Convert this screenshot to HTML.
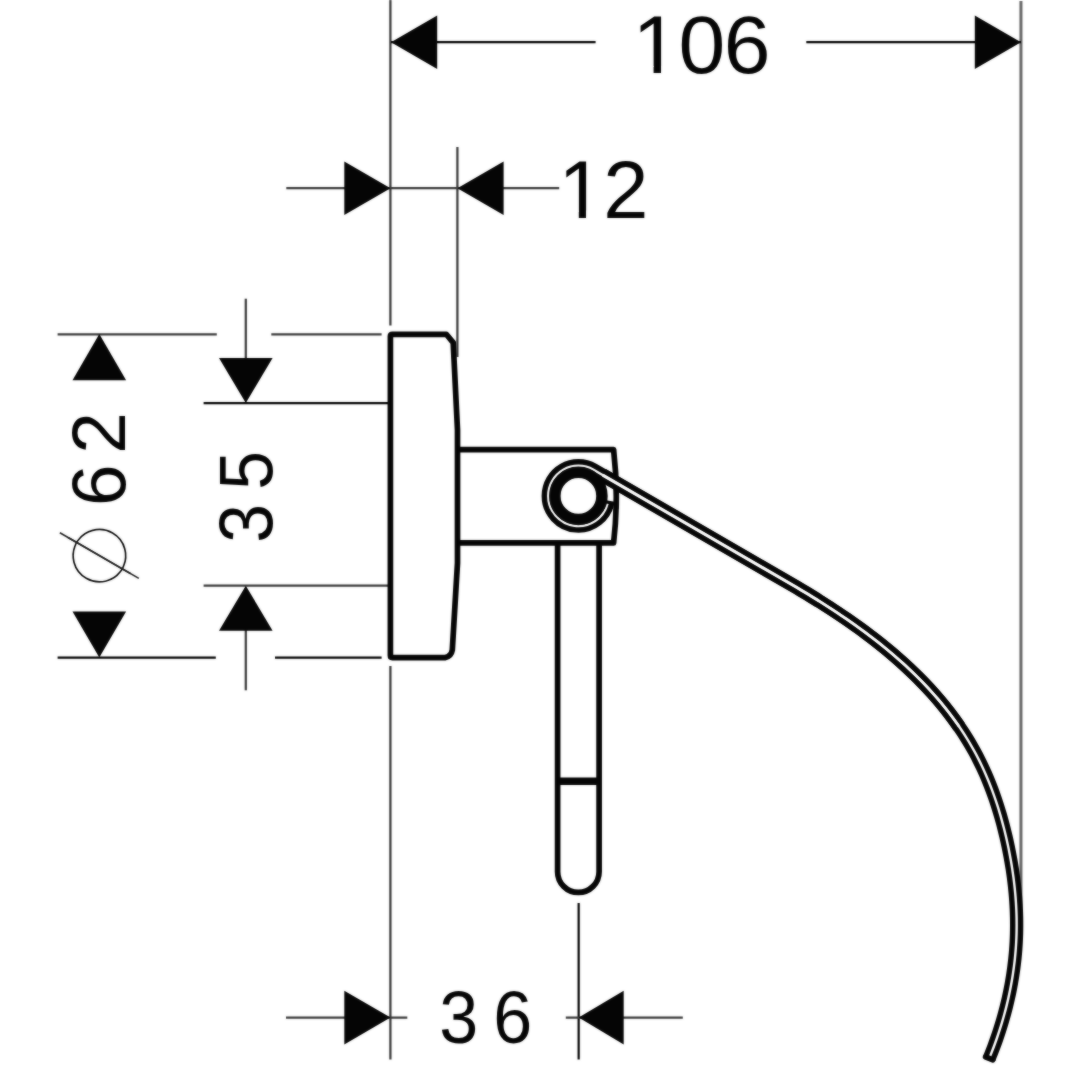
<!DOCTYPE html>
<html lang="en">
<head>
<meta charset="utf-8">
<title>Dimension drawing</title>
<style>
html,body{margin:0;padding:0;background:#fff;}
body{width:1080px;height:1080px;overflow:hidden;}
svg{display:block;}
</style>
</head>
<body>
<svg width="1080" height="1080" viewBox="0 0 1080 1080">
<defs><filter id="soft" color-interpolation-filters="sRGB" x="0" y="0" width="1080" height="1080" filterUnits="userSpaceOnUse"><feGaussianBlur in="SourceGraphic" stdDeviation="0.8" result="b"/><feComposite in="SourceGraphic" in2="b" operator="arithmetic" k1="0" k2="0.5" k3="0.5" k4="0"/></filter></defs>
<rect width="1080" height="1080" fill="#fff"/>
<g filter="url(#soft)">
<rect width="1080" height="1080" fill="#fff"/>
<g id="dimension-lines" fill="none">
<line x1="390.4" y1="0" x2="390.4" y2="325.5" stroke="#383838" stroke-width="2.25"/>
<line x1="390.4" y1="666" x2="390.4" y2="1059.5" stroke="#383838" stroke-width="2.25"/>
<line x1="1020.95" y1="1" x2="1020.95" y2="925" stroke="#666666" stroke-width="3.0"/>
<line x1="457.4" y1="147" x2="457.4" y2="357" stroke="#383838" stroke-width="2.25"/>
<line x1="245.8" y1="298.7" x2="245.8" y2="359" stroke="#383838" stroke-width="2.25"/>
<line x1="245.8" y1="629" x2="245.8" y2="690.3" stroke="#383838" stroke-width="2.25"/>
<line x1="578.66" y1="903" x2="578.66" y2="1059.5" stroke="#000" stroke-width="2.2"/>
<line x1="391" y1="42.16" x2="595.6" y2="42.16" stroke="#000" stroke-width="2.2"/>
<line x1="806.3" y1="42.16" x2="1021" y2="42.16" stroke="#000" stroke-width="2.2"/>
<line x1="286.3" y1="188.1" x2="559.2" y2="188.1" stroke="#383838" stroke-width="2.25"/>
<line x1="57.6" y1="334.3" x2="216.8" y2="334.3" stroke="#383838" stroke-width="2.25"/>
<line x1="271.3" y1="334.3" x2="381.6" y2="334.3" stroke="#383838" stroke-width="2.25"/>
<line x1="203.6" y1="403.2" x2="388" y2="403.2" stroke="#000" stroke-width="2.2"/>
<line x1="203.6" y1="585.7" x2="388" y2="585.7" stroke="#383838" stroke-width="2.25"/>
<line x1="57.6" y1="657.7" x2="215.8" y2="657.7" stroke="#000" stroke-width="2.2"/>
<line x1="275" y1="657.7" x2="381.6" y2="657.7" stroke="#000" stroke-width="2.2"/>
<line x1="286" y1="1017.6" x2="407.3" y2="1017.6" stroke="#383838" stroke-width="2.25"/>
<line x1="565.8" y1="1017.6" x2="682.8" y2="1017.6" stroke="#383838" stroke-width="2.25"/>
</g>
<g id="arrowheads" fill="#050505">
<polygon points="391.0,42.2 437.2,15.4 437.2,69.0"/>
<polygon points="1021.0,42.2 974.8,15.4 974.8,69.0"/>
<polygon points="390.5,188.2 344.3,161.4 344.3,215.0"/>
<polygon points="457.4,188.2 503.6,161.4 503.6,215.0"/>
<polygon points="99.3,334.1 72.5,380.3 126.1,380.3"/>
<polygon points="99.3,657.6 72.5,611.4 126.1,611.4"/>
<polygon points="245.8,403.0 219.0,358.0 272.6,358.0"/>
<polygon points="245.8,585.7 219.0,630.7 272.6,630.7"/>
<polygon points="390.5,1017.6 344.3,990.8 344.3,1044.4"/>
<polygon points="578.7,1017.6 623.7,990.8 623.7,1044.4"/>
</g>
<g id="holder" fill="none" stroke="#050505" stroke-width="5.7" stroke-linejoin="round">
<path d="M392.4,334.3 L446.3,334.3 L453.2,342.6 L457.5,430 L457.5,563 L452.3,650 Q451.2,656.4 445,657.6 L392.4,657.6 Q390.4,657.6 390.4,655.6 L390.4,336.3 Q390.4,334.3 392.4,334.3 Z"/>
<path d="M457.7,449.7 L613.6,449.7 Q619,496.3 613.6,542.9 L457.7,542.9"/>
<path d="M557.6,545 L557.6,871.7 A20.75,20.75 0 0 0 599.1,871.7 L599.1,545"/>
<line x1="557.6" y1="781.3" x2="599.1" y2="781.3" stroke-width="7.4"/>
</g>
<g id="wire" fill="none">
<path d="M608.18,500.62 A30.15,30.15 0 0 1 548.25,495.90 A30.15,30.15 0 0 1 593.50,469.81 L796.90,587.52 C798.07,588.22 801.58,590.32 803.92,591.74 C806.25,593.15 808.58,594.57 810.90,596.00 C813.22,597.42 815.54,598.86 817.85,600.31 C820.16,601.76 822.46,603.21 824.76,604.68 C827.06,606.15 829.35,607.62 831.63,609.11 C833.91,610.60 836.19,612.10 838.46,613.62 C840.73,615.13 842.99,616.66 845.24,618.19 C847.49,619.73 849.73,621.29 851.96,622.85 C854.19,624.42 856.42,626.00 858.63,627.60 C860.84,629.20 863.05,630.81 865.24,632.44 C867.43,634.07 869.61,635.72 871.78,637.38 C873.95,639.04 876.11,640.72 878.26,642.42 C880.40,644.11 882.54,645.83 884.65,647.56 C886.77,649.29 888.88,651.04 890.97,652.80 C893.06,654.57 895.13,656.35 897.19,658.15 C899.25,659.95 901.29,661.77 903.31,663.61 C905.33,665.44 907.34,667.30 909.33,669.17 C911.31,671.04 913.28,672.93 915.23,674.84 C917.18,676.75 919.11,678.68 921.02,680.63 C922.92,682.57 924.81,684.54 926.67,686.52 C928.54,688.50 930.38,690.51 932.20,692.53 C934.01,694.55 935.81,696.59 937.58,698.65 C939.35,700.71 941.10,702.79 942.82,704.89 C944.53,706.99 946.23,709.11 947.90,711.24 C949.56,713.38 951.20,715.54 952.81,717.72 C954.42,719.90 956.01,722.10 957.56,724.31 C959.12,726.53 960.64,728.77 962.14,731.03 C963.63,733.29 965.09,735.57 966.53,737.87 C967.96,740.17 969.36,742.49 970.73,744.83 C972.09,747.18 973.43,749.54 974.73,751.92 C976.03,754.31 977.30,756.71 978.53,759.14 C979.76,761.57 980.96,764.01 982.12,766.48 C983.28,768.95 984.41,771.44 985.51,773.94 C986.60,776.44 987.67,778.96 988.70,781.50 C989.73,784.04 990.73,786.59 991.70,789.16 C992.67,791.73 993.60,794.31 994.51,796.90 C995.42,799.50 996.29,802.11 997.14,804.72 C997.99,807.34 998.81,809.97 999.60,812.61 C1000.38,815.25 1001.14,817.90 1001.88,820.55 C1002.61,823.21 1003.32,825.87 1004.00,828.54 C1004.67,831.21 1005.33,833.88 1005.95,836.56 C1006.58,839.24 1007.18,841.92 1007.75,844.61 C1008.33,847.30 1008.88,849.99 1009.40,852.68 C1009.93,855.37 1010.42,858.06 1010.89,860.76 C1011.36,863.46 1011.81,866.15 1012.23,868.85 C1012.64,871.56 1013.03,874.26 1013.39,876.96 C1013.75,879.67 1014.09,882.37 1014.39,885.08 C1014.69,887.79 1014.97,890.50 1015.21,893.21 C1015.45,895.91 1015.67,898.63 1015.85,901.34 C1016.03,904.05 1016.19,906.76 1016.31,909.47 C1016.43,912.19 1016.52,914.90 1016.58,917.61 C1016.63,920.33 1016.66,923.04 1016.65,925.76 C1016.64,928.47 1016.60,931.18 1016.53,933.90 C1016.45,936.61 1016.34,939.32 1016.20,942.03 C1016.06,944.75 1015.88,947.46 1015.67,950.17 C1015.45,952.88 1015.21,955.59 1014.93,958.29 C1014.65,961.00 1014.33,963.70 1013.98,966.41 C1013.64,969.11 1013.26,971.80 1012.84,974.50 C1012.43,977.19 1011.98,979.88 1011.51,982.57 C1011.03,985.26 1010.52,987.94 1009.98,990.61 C1009.44,993.29 1008.86,995.96 1008.26,998.62 C1007.66,1001.29 1007.02,1003.95 1006.36,1006.60 C1005.69,1009.25 1005.00,1011.89 1004.27,1014.53 C1003.55,1017.16 1002.79,1019.79 1002.01,1022.41 C1001.23,1025.03 1000.41,1027.64 999.57,1030.24 C998.73,1032.84 997.86,1035.43 996.96,1038.01 C996.06,1040.59 995.14,1043.17 994.18,1045.72 C993.23,1048.28 992.08,1051.23 991.24,1053.37 C990.40,1055.50 989.47,1057.68 989.12,1058.54" stroke="#050505" stroke-width="13.3"/>
<path d="M608.18,500.62 A30.15,30.15 0 0 1 548.25,495.90 A30.15,30.15 0 0 1 593.50,469.81 L796.90,587.52 C798.07,588.22 801.58,590.32 803.92,591.74 C806.25,593.15 808.58,594.57 810.90,596.00 C813.22,597.42 815.54,598.86 817.85,600.31 C820.16,601.76 822.46,603.21 824.76,604.68 C827.06,606.15 829.35,607.62 831.63,609.11 C833.91,610.60 836.19,612.10 838.46,613.62 C840.73,615.13 842.99,616.66 845.24,618.19 C847.49,619.73 849.73,621.29 851.96,622.85 C854.19,624.42 856.42,626.00 858.63,627.60 C860.84,629.20 863.05,630.81 865.24,632.44 C867.43,634.07 869.61,635.72 871.78,637.38 C873.95,639.04 876.11,640.72 878.26,642.42 C880.40,644.11 882.54,645.83 884.65,647.56 C886.77,649.29 888.88,651.04 890.97,652.80 C893.06,654.57 895.13,656.35 897.19,658.15 C899.25,659.95 901.29,661.77 903.31,663.61 C905.33,665.44 907.34,667.30 909.33,669.17 C911.31,671.04 913.28,672.93 915.23,674.84 C917.18,676.75 919.11,678.68 921.02,680.63 C922.92,682.57 924.81,684.54 926.67,686.52 C928.54,688.50 930.38,690.51 932.20,692.53 C934.01,694.55 935.81,696.59 937.58,698.65 C939.35,700.71 941.10,702.79 942.82,704.89 C944.53,706.99 946.23,709.11 947.90,711.24 C949.56,713.38 951.20,715.54 952.81,717.72 C954.42,719.90 956.01,722.10 957.56,724.31 C959.12,726.53 960.64,728.77 962.14,731.03 C963.63,733.29 965.09,735.57 966.53,737.87 C967.96,740.17 969.36,742.49 970.73,744.83 C972.09,747.18 973.43,749.54 974.73,751.92 C976.03,754.31 977.30,756.71 978.53,759.14 C979.76,761.57 980.96,764.01 982.12,766.48 C983.28,768.95 984.41,771.44 985.51,773.94 C986.60,776.44 987.67,778.96 988.70,781.50 C989.73,784.04 990.73,786.59 991.70,789.16 C992.67,791.73 993.60,794.31 994.51,796.90 C995.42,799.50 996.29,802.11 997.14,804.72 C997.99,807.34 998.81,809.97 999.60,812.61 C1000.38,815.25 1001.14,817.90 1001.88,820.55 C1002.61,823.21 1003.32,825.87 1004.00,828.54 C1004.67,831.21 1005.33,833.88 1005.95,836.56 C1006.58,839.24 1007.18,841.92 1007.75,844.61 C1008.33,847.30 1008.88,849.99 1009.40,852.68 C1009.93,855.37 1010.42,858.06 1010.89,860.76 C1011.36,863.46 1011.81,866.15 1012.23,868.85 C1012.64,871.56 1013.03,874.26 1013.39,876.96 C1013.75,879.67 1014.09,882.37 1014.39,885.08 C1014.69,887.79 1014.97,890.50 1015.21,893.21 C1015.45,895.91 1015.67,898.63 1015.85,901.34 C1016.03,904.05 1016.19,906.76 1016.31,909.47 C1016.43,912.19 1016.52,914.90 1016.58,917.61 C1016.63,920.33 1016.66,923.04 1016.65,925.76 C1016.64,928.47 1016.60,931.18 1016.53,933.90 C1016.45,936.61 1016.34,939.32 1016.20,942.03 C1016.06,944.75 1015.88,947.46 1015.67,950.17 C1015.45,952.88 1015.21,955.59 1014.93,958.29 C1014.65,961.00 1014.33,963.70 1013.98,966.41 C1013.64,969.11 1013.26,971.80 1012.84,974.50 C1012.43,977.19 1011.98,979.88 1011.51,982.57 C1011.03,985.26 1010.52,987.94 1009.98,990.61 C1009.44,993.29 1008.86,995.96 1008.26,998.62 C1007.66,1001.29 1007.02,1003.95 1006.36,1006.60 C1005.69,1009.25 1005.00,1011.89 1004.27,1014.53 C1003.55,1017.16 1002.79,1019.79 1002.01,1022.41 C1001.23,1025.03 1000.41,1027.64 999.57,1030.24 C998.73,1032.84 997.86,1035.43 996.96,1038.01 C996.06,1040.59 995.14,1043.17 994.18,1045.72 C993.23,1048.28 992.08,1051.23 991.24,1053.37 C990.40,1055.50 989.47,1057.68 989.12,1058.54" stroke="#050505" stroke-width="13.6" stroke-dasharray="0 413 190 9999"/>
<path d="M608.18,500.62 A30.15,30.15 0 0 1 548.25,495.90 A30.15,30.15 0 0 1 593.50,469.81 L796.90,587.52 C798.07,588.22 801.58,590.32 803.92,591.74 C806.25,593.15 808.58,594.57 810.90,596.00 C813.22,597.42 815.54,598.86 817.85,600.31 C820.16,601.76 822.46,603.21 824.76,604.68 C827.06,606.15 829.35,607.62 831.63,609.11 C833.91,610.60 836.19,612.10 838.46,613.62 C840.73,615.13 842.99,616.66 845.24,618.19 C847.49,619.73 849.73,621.29 851.96,622.85 C854.19,624.42 856.42,626.00 858.63,627.60 C860.84,629.20 863.05,630.81 865.24,632.44 C867.43,634.07 869.61,635.72 871.78,637.38 C873.95,639.04 876.11,640.72 878.26,642.42 C880.40,644.11 882.54,645.83 884.65,647.56 C886.77,649.29 888.88,651.04 890.97,652.80 C893.06,654.57 895.13,656.35 897.19,658.15 C899.25,659.95 901.29,661.77 903.31,663.61 C905.33,665.44 907.34,667.30 909.33,669.17 C911.31,671.04 913.28,672.93 915.23,674.84 C917.18,676.75 919.11,678.68 921.02,680.63 C922.92,682.57 924.81,684.54 926.67,686.52 C928.54,688.50 930.38,690.51 932.20,692.53 C934.01,694.55 935.81,696.59 937.58,698.65 C939.35,700.71 941.10,702.79 942.82,704.89 C944.53,706.99 946.23,709.11 947.90,711.24 C949.56,713.38 951.20,715.54 952.81,717.72 C954.42,719.90 956.01,722.10 957.56,724.31 C959.12,726.53 960.64,728.77 962.14,731.03 C963.63,733.29 965.09,735.57 966.53,737.87 C967.96,740.17 969.36,742.49 970.73,744.83 C972.09,747.18 973.43,749.54 974.73,751.92 C976.03,754.31 977.30,756.71 978.53,759.14 C979.76,761.57 980.96,764.01 982.12,766.48 C983.28,768.95 984.41,771.44 985.51,773.94 C986.60,776.44 987.67,778.96 988.70,781.50 C989.73,784.04 990.73,786.59 991.70,789.16 C992.67,791.73 993.60,794.31 994.51,796.90 C995.42,799.50 996.29,802.11 997.14,804.72 C997.99,807.34 998.81,809.97 999.60,812.61 C1000.38,815.25 1001.14,817.90 1001.88,820.55 C1002.61,823.21 1003.32,825.87 1004.00,828.54 C1004.67,831.21 1005.33,833.88 1005.95,836.56 C1006.58,839.24 1007.18,841.92 1007.75,844.61 C1008.33,847.30 1008.88,849.99 1009.40,852.68 C1009.93,855.37 1010.42,858.06 1010.89,860.76 C1011.36,863.46 1011.81,866.15 1012.23,868.85 C1012.64,871.56 1013.03,874.26 1013.39,876.96 C1013.75,879.67 1014.09,882.37 1014.39,885.08 C1014.69,887.79 1014.97,890.50 1015.21,893.21 C1015.45,895.91 1015.67,898.63 1015.85,901.34 C1016.03,904.05 1016.19,906.76 1016.31,909.47 C1016.43,912.19 1016.52,914.90 1016.58,917.61 C1016.63,920.33 1016.66,923.04 1016.65,925.76 C1016.64,928.47 1016.60,931.18 1016.53,933.90 C1016.45,936.61 1016.34,939.32 1016.20,942.03 C1016.06,944.75 1015.88,947.46 1015.67,950.17 C1015.45,952.88 1015.21,955.59 1014.93,958.29 C1014.65,961.00 1014.33,963.70 1013.98,966.41 C1013.64,969.11 1013.26,971.80 1012.84,974.50 C1012.43,977.19 1011.98,979.88 1011.51,982.57 C1011.03,985.26 1010.52,987.94 1009.98,990.61 C1009.44,993.29 1008.86,995.96 1008.26,998.62 C1007.66,1001.29 1007.02,1003.95 1006.36,1006.60 C1005.69,1009.25 1005.00,1011.89 1004.27,1014.53 C1003.55,1017.16 1002.79,1019.79 1002.01,1022.41 C1001.23,1025.03 1000.41,1027.64 999.57,1030.24 C998.73,1032.84 997.86,1035.43 996.96,1038.01 C996.06,1040.59 995.14,1043.17 994.18,1045.72 C993.23,1048.28 992.08,1051.23 991.24,1053.37 C990.40,1055.50 989.47,1057.68 989.12,1058.54" stroke="#050505" stroke-width="14.0" stroke-dasharray="0 163 250 9999"/>
<line x1="985.37" y1="1057.00" x2="992.87" y2="1060.07" stroke="#050505" stroke-width="5.2" stroke-linecap="round"/>
<g id="wire-core" stroke="#fff">
<path d="M607.52,503.70 A30.15,30.15 0 0 1 548.25,495.90 A30.15,30.15 0 0 1 593.50,469.81 L796.90,587.52 C798.07,588.22 801.58,590.32 803.92,591.74 C806.25,593.15 808.58,594.57 810.90,596.00 C813.22,597.42 815.54,598.86 817.85,600.31 C820.16,601.76 822.46,603.21 824.76,604.68 C827.06,606.15 829.35,607.62 831.63,609.11 C833.91,610.60 836.19,612.10 838.46,613.62 C840.73,615.13 842.99,616.66 845.24,618.19 C847.49,619.73 849.73,621.29 851.96,622.85 C854.19,624.42 856.42,626.00 858.63,627.60 C860.84,629.20 863.05,630.81 865.24,632.44 C867.43,634.07 869.61,635.72 871.78,637.38 C873.95,639.04 876.11,640.72 878.26,642.42 C880.40,644.11 882.54,645.83 884.65,647.56 C886.77,649.29 888.88,651.04 890.97,652.80 C893.06,654.57 895.13,656.35 897.19,658.15 C899.25,659.95 901.29,661.77 903.31,663.61 C905.33,665.44 907.34,667.30 909.33,669.17 C911.31,671.04 913.28,672.93 915.23,674.84 C917.18,676.75 919.11,678.68 921.02,680.63 C922.92,682.57 924.81,684.54 926.67,686.52 C928.54,688.50 930.38,690.51 932.20,692.53 C934.01,694.55 935.81,696.59 937.58,698.65 C939.35,700.71 941.10,702.79 942.82,704.89 C944.53,706.99 946.23,709.11 947.90,711.24 C949.56,713.38 951.20,715.54 952.81,717.72 C954.42,719.90 956.01,722.10 957.56,724.31 C959.12,726.53 960.64,728.77 962.14,731.03 C963.63,733.29 965.09,735.57 966.53,737.87 C967.96,740.17 969.36,742.49 970.73,744.83 C972.09,747.18 973.43,749.54 974.73,751.92 C976.03,754.31 977.30,756.71 978.53,759.14 C979.76,761.57 980.96,764.01 982.12,766.48 C983.28,768.95 984.41,771.44 985.51,773.94 C986.60,776.44 987.67,778.96 988.70,781.50 C989.73,784.04 990.73,786.59 991.70,789.16 C992.67,791.73 993.60,794.31 994.51,796.90 C995.42,799.50 996.29,802.11 997.14,804.72 C997.99,807.34 998.81,809.97 999.60,812.61 C1000.38,815.25 1001.14,817.90 1001.88,820.55 C1002.61,823.21 1003.32,825.87 1004.00,828.54 C1004.67,831.21 1005.33,833.88 1005.95,836.56 C1006.58,839.24 1007.18,841.92 1007.75,844.61 C1008.33,847.30 1008.88,849.99 1009.40,852.68 C1009.93,855.37 1010.42,858.06 1010.89,860.76 C1011.36,863.46 1011.81,866.15 1012.23,868.85 C1012.64,871.56 1013.03,874.26 1013.39,876.96 C1013.75,879.67 1014.09,882.37 1014.39,885.08 C1014.69,887.79 1014.97,890.50 1015.21,893.21 C1015.45,895.91 1015.67,898.63 1015.85,901.34 C1016.03,904.05 1016.19,906.76 1016.31,909.47 C1016.43,912.19 1016.52,914.90 1016.58,917.61 C1016.63,920.33 1016.66,923.04 1016.65,925.76 C1016.64,928.47 1016.60,931.18 1016.53,933.90 C1016.45,936.61 1016.34,939.32 1016.20,942.03 C1016.06,944.75 1015.88,947.46 1015.67,950.17 C1015.45,952.88 1015.21,955.59 1014.93,958.29 C1014.65,961.00 1014.33,963.70 1013.98,966.41 C1013.64,969.11 1013.26,971.80 1012.84,974.50 C1012.43,977.19 1011.98,979.88 1011.51,982.57 C1011.03,985.26 1010.52,987.94 1009.98,990.61 C1009.44,993.29 1008.86,995.96 1008.26,998.62 C1007.66,1001.29 1007.02,1003.95 1006.36,1006.60 C1005.69,1009.25 1005.00,1011.89 1004.27,1014.53 C1003.55,1017.16 1002.79,1019.79 1002.01,1022.41 C1001.23,1025.03 1000.41,1027.64 999.57,1030.24 C998.73,1032.84 997.86,1035.43 996.96,1038.01 C996.06,1040.59 995.14,1043.17 994.18,1045.72 C993.23,1048.28 991.89,1051.70 991.24,1053.37 C990.59,1055.04 990.42,1055.36 990.26,1055.76" stroke-width="2.4"/>
<path d="M607.52,503.70 A30.15,30.15 0 0 1 548.25,495.90 A30.15,30.15 0 0 1 593.50,469.81 L796.90,587.52 C798.07,588.22 801.58,590.32 803.92,591.74 C806.25,593.15 808.58,594.57 810.90,596.00 C813.22,597.42 815.54,598.86 817.85,600.31 C820.16,601.76 822.46,603.21 824.76,604.68 C827.06,606.15 829.35,607.62 831.63,609.11 C833.91,610.60 836.19,612.10 838.46,613.62 C840.73,615.13 842.99,616.66 845.24,618.19 C847.49,619.73 849.73,621.29 851.96,622.85 C854.19,624.42 856.42,626.00 858.63,627.60 C860.84,629.20 863.05,630.81 865.24,632.44 C867.43,634.07 869.61,635.72 871.78,637.38 C873.95,639.04 876.11,640.72 878.26,642.42 C880.40,644.11 882.54,645.83 884.65,647.56 C886.77,649.29 888.88,651.04 890.97,652.80 C893.06,654.57 895.13,656.35 897.19,658.15 C899.25,659.95 901.29,661.77 903.31,663.61 C905.33,665.44 907.34,667.30 909.33,669.17 C911.31,671.04 913.28,672.93 915.23,674.84 C917.18,676.75 919.11,678.68 921.02,680.63 C922.92,682.57 924.81,684.54 926.67,686.52 C928.54,688.50 930.38,690.51 932.20,692.53 C934.01,694.55 935.81,696.59 937.58,698.65 C939.35,700.71 941.10,702.79 942.82,704.89 C944.53,706.99 946.23,709.11 947.90,711.24 C949.56,713.38 951.20,715.54 952.81,717.72 C954.42,719.90 956.01,722.10 957.56,724.31 C959.12,726.53 960.64,728.77 962.14,731.03 C963.63,733.29 965.09,735.57 966.53,737.87 C967.96,740.17 969.36,742.49 970.73,744.83 C972.09,747.18 973.43,749.54 974.73,751.92 C976.03,754.31 977.30,756.71 978.53,759.14 C979.76,761.57 980.96,764.01 982.12,766.48 C983.28,768.95 984.41,771.44 985.51,773.94 C986.60,776.44 987.67,778.96 988.70,781.50 C989.73,784.04 990.73,786.59 991.70,789.16 C992.67,791.73 993.60,794.31 994.51,796.90 C995.42,799.50 996.29,802.11 997.14,804.72 C997.99,807.34 998.81,809.97 999.60,812.61 C1000.38,815.25 1001.14,817.90 1001.88,820.55 C1002.61,823.21 1003.32,825.87 1004.00,828.54 C1004.67,831.21 1005.33,833.88 1005.95,836.56 C1006.58,839.24 1007.18,841.92 1007.75,844.61 C1008.33,847.30 1008.88,849.99 1009.40,852.68 C1009.93,855.37 1010.42,858.06 1010.89,860.76 C1011.36,863.46 1011.81,866.15 1012.23,868.85 C1012.64,871.56 1013.03,874.26 1013.39,876.96 C1013.75,879.67 1014.09,882.37 1014.39,885.08 C1014.69,887.79 1014.97,890.50 1015.21,893.21 C1015.45,895.91 1015.67,898.63 1015.85,901.34 C1016.03,904.05 1016.19,906.76 1016.31,909.47 C1016.43,912.19 1016.52,914.90 1016.58,917.61 C1016.63,920.33 1016.66,923.04 1016.65,925.76 C1016.64,928.47 1016.60,931.18 1016.53,933.90 C1016.45,936.61 1016.34,939.32 1016.20,942.03 C1016.06,944.75 1015.88,947.46 1015.67,950.17 C1015.45,952.88 1015.21,955.59 1014.93,958.29 C1014.65,961.00 1014.33,963.70 1013.98,966.41 C1013.64,969.11 1013.26,971.80 1012.84,974.50 C1012.43,977.19 1011.98,979.88 1011.51,982.57 C1011.03,985.26 1010.52,987.94 1009.98,990.61 C1009.44,993.29 1008.86,995.96 1008.26,998.62 C1007.66,1001.29 1007.02,1003.95 1006.36,1006.60 C1005.69,1009.25 1005.00,1011.89 1004.27,1014.53 C1003.55,1017.16 1002.79,1019.79 1002.01,1022.41 C1001.23,1025.03 1000.41,1027.64 999.57,1030.24 C998.73,1032.84 997.86,1035.43 996.96,1038.01 C996.06,1040.59 995.14,1043.17 994.18,1045.72 C993.23,1048.28 991.89,1051.70 991.24,1053.37 C990.59,1055.04 990.42,1055.36 990.26,1055.76" stroke-width="2.7" stroke-dasharray="0 410 190 9999"/>
<path d="M607.52,503.70 A30.15,30.15 0 0 1 548.25,495.90 A30.15,30.15 0 0 1 593.50,469.81 L796.90,587.52 C798.07,588.22 801.58,590.32 803.92,591.74 C806.25,593.15 808.58,594.57 810.90,596.00 C813.22,597.42 815.54,598.86 817.85,600.31 C820.16,601.76 822.46,603.21 824.76,604.68 C827.06,606.15 829.35,607.62 831.63,609.11 C833.91,610.60 836.19,612.10 838.46,613.62 C840.73,615.13 842.99,616.66 845.24,618.19 C847.49,619.73 849.73,621.29 851.96,622.85 C854.19,624.42 856.42,626.00 858.63,627.60 C860.84,629.20 863.05,630.81 865.24,632.44 C867.43,634.07 869.61,635.72 871.78,637.38 C873.95,639.04 876.11,640.72 878.26,642.42 C880.40,644.11 882.54,645.83 884.65,647.56 C886.77,649.29 888.88,651.04 890.97,652.80 C893.06,654.57 895.13,656.35 897.19,658.15 C899.25,659.95 901.29,661.77 903.31,663.61 C905.33,665.44 907.34,667.30 909.33,669.17 C911.31,671.04 913.28,672.93 915.23,674.84 C917.18,676.75 919.11,678.68 921.02,680.63 C922.92,682.57 924.81,684.54 926.67,686.52 C928.54,688.50 930.38,690.51 932.20,692.53 C934.01,694.55 935.81,696.59 937.58,698.65 C939.35,700.71 941.10,702.79 942.82,704.89 C944.53,706.99 946.23,709.11 947.90,711.24 C949.56,713.38 951.20,715.54 952.81,717.72 C954.42,719.90 956.01,722.10 957.56,724.31 C959.12,726.53 960.64,728.77 962.14,731.03 C963.63,733.29 965.09,735.57 966.53,737.87 C967.96,740.17 969.36,742.49 970.73,744.83 C972.09,747.18 973.43,749.54 974.73,751.92 C976.03,754.31 977.30,756.71 978.53,759.14 C979.76,761.57 980.96,764.01 982.12,766.48 C983.28,768.95 984.41,771.44 985.51,773.94 C986.60,776.44 987.67,778.96 988.70,781.50 C989.73,784.04 990.73,786.59 991.70,789.16 C992.67,791.73 993.60,794.31 994.51,796.90 C995.42,799.50 996.29,802.11 997.14,804.72 C997.99,807.34 998.81,809.97 999.60,812.61 C1000.38,815.25 1001.14,817.90 1001.88,820.55 C1002.61,823.21 1003.32,825.87 1004.00,828.54 C1004.67,831.21 1005.33,833.88 1005.95,836.56 C1006.58,839.24 1007.18,841.92 1007.75,844.61 C1008.33,847.30 1008.88,849.99 1009.40,852.68 C1009.93,855.37 1010.42,858.06 1010.89,860.76 C1011.36,863.46 1011.81,866.15 1012.23,868.85 C1012.64,871.56 1013.03,874.26 1013.39,876.96 C1013.75,879.67 1014.09,882.37 1014.39,885.08 C1014.69,887.79 1014.97,890.50 1015.21,893.21 C1015.45,895.91 1015.67,898.63 1015.85,901.34 C1016.03,904.05 1016.19,906.76 1016.31,909.47 C1016.43,912.19 1016.52,914.90 1016.58,917.61 C1016.63,920.33 1016.66,923.04 1016.65,925.76 C1016.64,928.47 1016.60,931.18 1016.53,933.90 C1016.45,936.61 1016.34,939.32 1016.20,942.03 C1016.06,944.75 1015.88,947.46 1015.67,950.17 C1015.45,952.88 1015.21,955.59 1014.93,958.29 C1014.65,961.00 1014.33,963.70 1013.98,966.41 C1013.64,969.11 1013.26,971.80 1012.84,974.50 C1012.43,977.19 1011.98,979.88 1011.51,982.57 C1011.03,985.26 1010.52,987.94 1009.98,990.61 C1009.44,993.29 1008.86,995.96 1008.26,998.62 C1007.66,1001.29 1007.02,1003.95 1006.36,1006.60 C1005.69,1009.25 1005.00,1011.89 1004.27,1014.53 C1003.55,1017.16 1002.79,1019.79 1002.01,1022.41 C1001.23,1025.03 1000.41,1027.64 999.57,1030.24 C998.73,1032.84 997.86,1035.43 996.96,1038.01 C996.06,1040.59 995.14,1043.17 994.18,1045.72 C993.23,1048.28 991.89,1051.70 991.24,1053.37 C990.59,1055.04 990.42,1055.36 990.26,1055.76" stroke-width="3.0" stroke-dasharray="0 160 250 9999"/>
</g>
<circle id="pin" cx="578.4" cy="495.9" r="23.55" stroke="#050505" stroke-width="11.5"/>
</g>
<g id="labels" font-family="&quot;Liberation Sans&quot;, sans-serif" fill="#050505">
<text transform="scale(1.03,1)" x="614.0 658.8 702.7" y="73.3" font-size="81.6">106</text>
<text x="558.4 603.3" y="217.7" font-size="81.2">12</text>
<text transform="scale(0.94,1)" x="467.3 524.8" y="1043.0" font-size="74.5">36</text>
<text transform="translate(272.0,0) rotate(-90) scale(0.91,1)" x="-596.4 -538.3" y="0" font-size="76.5">35</text>
<text transform="translate(125.4,0) rotate(-90) scale(0.98,1)" x="-516.4 -462.9" y="0" font-size="76.0">62</text>
</g>
<g id="digit-trim" fill="#fff"><rect x="637.35" y="66.00" width="16.23" height="9.10"/><rect x="661.01" y="66.00" width="15.58" height="9.10"/><rect x="563.08" y="210.43" width="15.73" height="9.07"/><rect x="585.99" y="210.43" width="15.10" height="9.07"/></g>
<text id="diameter" transform="translate(99.3,555.6) rotate(-105) translate(-34.65,28.61)" font-family="&quot;DejaVu Sans&quot;, sans-serif" font-size="115.1" fill="#050505" stroke="#fff" stroke-width="6.2">⌀</text>
<line x1="59.86" y1="532.80" x2="138.84" y2="578.40" stroke="#1c1c1c" stroke-width="1.6"/>
</g>

</svg>
</body>
</html>
